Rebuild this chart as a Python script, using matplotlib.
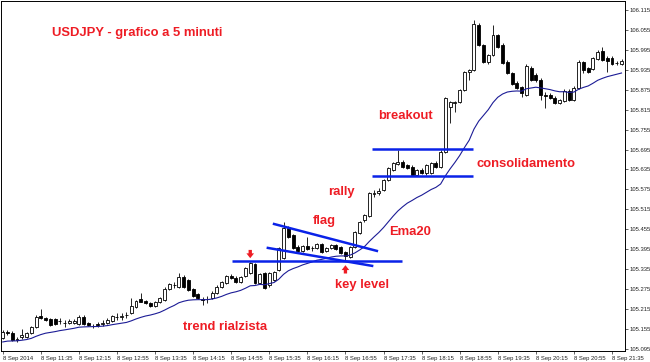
"""USDJPY 5-minute chart (8 Sep 2014) with flag / breakout annotations, MT4 style."""
import numpy as np
import matplotlib
matplotlib.use("Agg")
import matplotlib.pyplot as plt

plt.rcParams['font.family'] = ['Liberation Sans', 'DejaVu Sans']

# OHLC of the 131 five-minute bars, 10:55 -> 21:45
OPENS = [105.128, 105.146, 105.143, 105.122, 105.131, 105.131, 105.143, 105.161, 105.194, 105.188,
         105.185, 105.185, 105.179, 105.173, 105.173, 105.173, 105.170, 105.191, 105.173, 105.164,
         105.170, 105.170, 105.173, 105.179, 105.191, 105.191, 105.197, 105.203, 105.221, 105.245,
         105.239, 105.233, 105.224, 105.236, 105.242, 105.275, 105.287, 105.281, 105.312, 105.303,
         105.275, 105.260, 105.245, 105.245, 105.248, 105.263, 105.281, 105.294, 105.315, 105.309,
         105.297, 105.315, 105.324, 105.351, 105.294, 105.324, 105.287, 105.303, 105.333, 105.369,
         105.459, 105.438, 105.402, 105.390, 105.405, 105.399, 105.399, 105.411, 105.390, 105.399,
         105.408, 105.402, 105.387, 105.372, 105.402, 105.444, 105.483, 105.495, 105.561, 105.564,
         105.573, 105.603, 105.634, 105.652, 105.658, 105.649, 105.643, 105.618, 105.634, 105.624,
         105.624, 105.655, 105.643, 105.688, 105.823, 105.835, 105.838, 105.874, 105.928, 105.934,
         106.070, 106.010, 105.958, 105.980, 106.040, 106.010, 105.958, 105.925, 105.895, 105.883,
         105.859, 105.940, 105.919, 105.904, 105.859, 105.859, 105.850, 105.835, 105.841, 105.871,
         105.844, 105.880, 105.958, 105.940, 105.937, 105.968, 105.992, 105.971, 105.971, 105.955,
         105.952]
HIGHS = [105.152, 105.152, 105.149, 105.131, 105.155, 105.146, 105.164, 105.197, 105.215, 105.191,
         105.188, 105.188, 105.188, 105.182, 105.185, 105.185, 105.197, 105.197, 105.176, 105.170,
         105.176, 105.182, 105.188, 105.197, 105.203, 105.203, 105.206, 105.248, 105.242, 105.263,
         105.242, 105.236, 105.239, 105.251, 105.281, 105.294, 105.297, 105.324, 105.318, 105.306,
         105.278, 105.263, 105.251, 105.254, 105.269, 105.287, 105.300, 105.318, 105.321, 105.315,
         105.315, 105.342, 105.357, 105.354, 105.324, 105.327, 105.327, 105.330, 105.402, 105.477,
         105.465, 105.441, 105.408, 105.408, 105.432, 105.405, 105.414, 105.414, 105.402, 105.411,
         105.411, 105.405, 105.390, 105.405, 105.450, 105.480, 105.501, 105.567, 105.573, 105.579,
         105.606, 105.643, 105.658, 105.694, 105.664, 105.652, 105.649, 105.637, 105.640, 105.652,
         105.658, 105.661, 105.694, 105.853, 105.841, 105.841, 105.877, 105.931, 105.937, 106.085,
         106.076, 106.013, 105.983, 106.070, 106.043, 106.016, 105.965, 105.928, 105.901, 105.886,
         105.952, 105.946, 105.925, 105.910, 105.868, 105.865, 105.856, 105.847, 105.877, 105.877,
         105.886, 105.965, 105.962, 105.943, 105.974, 105.995, 106.004, 105.977, 105.977, 105.962,
         105.968]
LOWS = [105.125, 105.137, 105.119, 105.116, 105.125, 105.128, 105.140, 105.158, 105.185, 105.179,
        105.164, 105.167, 105.170, 105.161, 105.170, 105.170, 105.167, 105.167, 105.164, 105.158,
        105.161, 105.164, 105.170, 105.176, 105.182, 105.182, 105.188, 105.200, 105.218, 105.236,
        105.230, 105.221, 105.221, 105.233, 105.239, 105.272, 105.278, 105.278, 105.278, 105.269,
        105.251, 105.245, 105.227, 105.233, 105.245, 105.260, 105.278, 105.290, 105.306, 105.294,
        105.294, 105.312, 105.321, 105.290, 105.290, 105.275, 105.281, 105.300, 105.330, 105.366,
        105.429, 105.396, 105.387, 105.387, 105.393, 105.390, 105.396, 105.384, 105.387, 105.396,
        105.393, 105.381, 105.363, 105.369, 105.399, 105.441, 105.477, 105.492, 105.552, 105.558,
        105.570, 105.600, 105.631, 105.649, 105.640, 105.637, 105.615, 105.615, 105.621, 105.618,
        105.621, 105.640, 105.640, 105.685, 105.775, 105.808, 105.835, 105.871, 105.904, 105.931,
        106.007, 105.955, 105.952, 105.977, 106.001, 105.952, 105.922, 105.889, 105.877, 105.853,
        105.856, 105.901, 105.898, 105.844, 105.820, 105.847, 105.832, 105.832, 105.838, 105.841,
        105.841, 105.877, 105.925, 105.925, 105.934, 105.965, 105.962, 105.928, 105.949, 105.949,
        105.949]
CLOSES = [105.146, 105.143, 105.122, 105.125, 105.137, 105.143, 105.161, 105.191, 105.188, 105.182,
          105.167, 105.170, 105.179, 105.173, 105.179, 105.179, 105.191, 105.170, 105.167, 105.164,
          105.167, 105.173, 105.182, 105.194, 105.191, 105.194, 105.197, 105.224, 105.239, 105.236,
          105.233, 105.224, 105.236, 105.248, 105.275, 105.290, 105.287, 105.312, 105.281, 105.272,
          105.254, 105.248, 105.242, 105.245, 105.263, 105.281, 105.297, 105.315, 105.309, 105.297,
          105.312, 105.339, 105.354, 105.294, 105.321, 105.278, 105.324, 105.327, 105.399, 105.459,
          105.432, 105.399, 105.390, 105.405, 105.396, 105.399, 105.411, 105.387, 105.399, 105.408,
          105.396, 105.384, 105.375, 105.402, 105.447, 105.477, 105.498, 105.564, 105.564, 105.570,
          105.603, 105.640, 105.655, 105.658, 105.643, 105.640, 105.618, 105.634, 105.624, 105.649,
          105.655, 105.643, 105.688, 105.850, 105.838, 105.838, 105.874, 105.928, 105.934, 106.073,
          106.010, 105.958, 105.980, 106.040, 106.004, 105.955, 105.925, 105.892, 105.880, 105.865,
          105.946, 105.904, 105.904, 105.859, 105.856, 105.850, 105.835, 105.844, 105.871, 105.844,
          105.880, 105.958, 105.934, 105.928, 105.971, 105.989, 105.965, 105.962, 105.952, 105.955,
          105.962]
EMA_START = 105.116   # EMA20 value at the first visible bar

# time axis: a label every 8 bars (40 minutes)
XTICK_BARS = [0, 8, 16, 24, 32, 40, 48, 56, 64, 72, 80, 88, 96, 104, 112, 120, 128]
XTICK_LABELS = ["8 Sep 2014", "8 Sep 11:35", "8 Sep 12:15", "8 Sep 12:55", "8 Sep 13:35",
                "8 Sep 14:15", "8 Sep 14:55", "8 Sep 15:35", "8 Sep 16:15", "8 Sep 16:55",
                "8 Sep 17:35", "8 Sep 18:15", "8 Sep 18:55", "8 Sep 19:35", "8 Sep 20:15",
                "8 Sep 20:55", "8 Sep 21:35"]
YTICKS = [106.115, 106.055, 105.995, 105.935, 105.875, 105.815, 105.755, 105.695, 105.635,
          105.575, 105.515, 105.455, 105.395, 105.335, 105.275, 105.215, 105.155, 105.095]

# drawn levels
KEY_LEVEL = 105.360
RANGE_HIGH = 105.697
RANGE_LOW = 105.614
FLAG_TOP = [(57.0, 105.471), (78.6, 105.390)]
FLAG_BOTTOM = [(55.7, 105.399), (77.6, 105.345)]

RED = "#ee1c24"
BLUE = "#0a22e8"

o = np.array(OPENS); h = np.array(HIGHS); l = np.array(LOWS); c = np.array(CLOSES)
idx = np.arange(len(c))

# EMA20 of the closes
ema = np.empty(len(c))
k = 2.0 / 21
prev = EMA_START
for i, v in enumerate(c):
    prev = prev + k * (v - prev) if i else prev
    ema[i] = prev

fig = plt.figure(figsize=(6.5, 3.62), dpi=100)
ax = fig.add_axes([1 / 650, 11 / 362, 624 / 650, 350 / 362])

ax.vlines(idx, l, h, color="black", lw=0.6, zorder=2)
up = c >= o
ax.bar(idx[up], (c - o)[up], bottom=o[up], width=0.62, facecolor="white",
       edgecolor="black", lw=0.6, zorder=3)
ax.bar(idx[~up], (o - c)[~up], bottom=c[~up], width=0.62, facecolor="black",
       edgecolor="black", lw=0.6, zorder=3)
ax.plot(idx, ema, color="#1c1c96", lw=0.8, zorder=4)

# annotations
ax.hlines(KEY_LEVEL, 48.2, 83.9, color=BLUE, lw=1.8, zorder=5)
ax.hlines([RANGE_HIGH, RANGE_LOW], 77.6, 98.8, color=BLUE, lw=1.8, zorder=5)
for seg in (FLAG_TOP, FLAG_BOTTOM):
    ax.plot([seg[0][0], seg[1][0]], [seg[0][1], seg[1][1]], color=BLUE, lw=1.8, zorder=5)

arrow = dict(arrowstyle="simple,head_length=0.35,head_width=0.55,tail_width=0.24",
             color=RED, lw=0, mutation_scale=10, shrinkA=0, shrinkB=0)
ax.annotate("", xy=(52, 105.368), xytext=(52, 105.393), arrowprops=arrow, zorder=6)
ax.annotate("", xy=(72, 105.347), xytext=(72, 105.322), arrowprops=arrow, zorder=6)

txt = dict(color=RED, fontsize=9.4, fontweight="bold", ha="left", va="center", zorder=7)
ax.text(10.4, 106.046, "USDJPY - grafico a 5 minuti", **txt)
ax.text(78.8, 105.796, "breakout", **txt)
ax.text(99.6, 105.652, "consolidamento", **txt)
ax.text(68.3, 105.567, "rally", **txt)
ax.text(65.2, 105.480, "flag", **txt)
ax.text(81.2, 105.447, "Ema20", **txt)
ax.text(69.8, 105.287, "key level", **txt)
ax.text(37.9, 105.161, "trend rialzista", **txt)

ax.set_xlim(-0.36, 130.73)
ax.set_ylim(105.0888, 106.142)
ax.yaxis.tick_right()
ax.set_yticks(YTICKS)
ax.set_yticklabels([f"{v:.3f}" for v in YTICKS])
ax.set_xticks(XTICK_BARS)
ax.set_xticklabels(XTICK_LABELS)
for lab in ax.get_xticklabels():
    lab.set_horizontalalignment("left")
ax.tick_params(axis="both", labelsize=4.2, length=2, width=0.5, pad=1.5, colors="#222222")
for s in ax.spines.values():
    s.set_linewidth(0.7)

fig.savefig("out.png", dpi=100)
